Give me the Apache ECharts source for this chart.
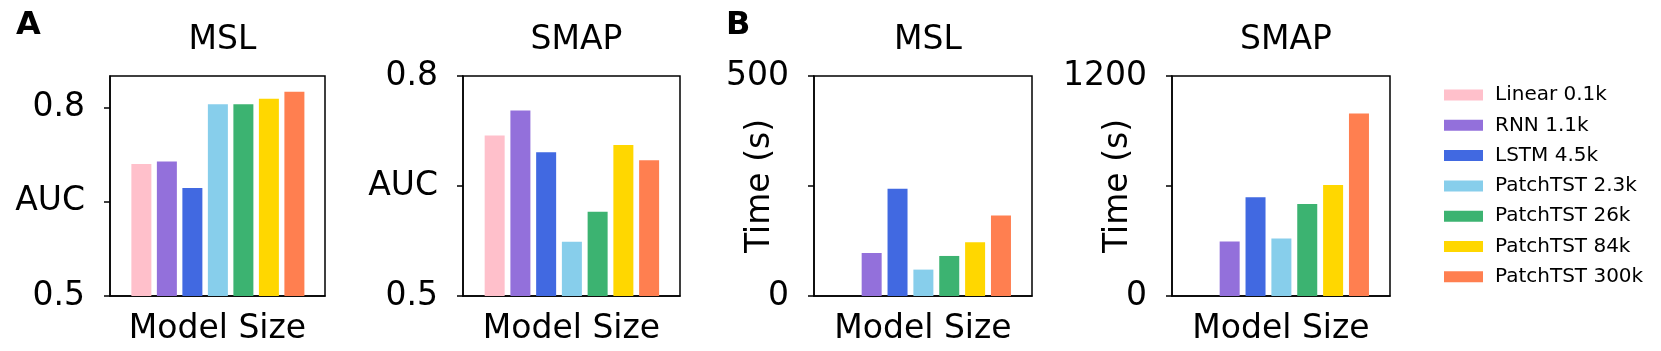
<!DOCTYPE html>
<html>
<head>
    <meta charset="utf-8">
    <title>AUC and time by model size</title>
    <script src="https://cdn.jsdelivr.net/npm/echarts@6/dist/echarts.min.js"></script>
    <style>
        body { margin: 0; background: #fff; }
        #main { width: 1661px; height: 351px; }
    </style>
</head>
<body>
<div id="main"></div>
<script type="text/javascript">
    // models shown in every panel, left to right
    var models = ['Linear 0.1k', 'RNN 1.1k', 'LSTM 4.5k', 'PatchTST 2.3k', 'PatchTST 26k', 'PatchTST 84k', 'PatchTST 300k'];
    var colors = ['#FFC0CB', '#9370DB', '#4169E1', '#87CEEB', '#3CB371', '#FFD700', '#FF7F50'];

    // values
    var mslAuc = [0.710, 0.714, 0.672, 0.805, 0.805, 0.814, 0.825];
    var smapAuc = [0.719, 0.753, 0.696, 0.574, 0.615, 0.706, 0.685];
    var mslTime = [0, 98, 244, 60, 91, 122, 183];
    var smapTime = [0, 297, 538, 313, 502, 606, 996];

    var panelTitles = ['MSL', 'SMAP', 'MSL', 'SMAP'];
    var aucTicks = [0.5, 0.65, 0.8];
    var mslTimeTicks = [0, 250, 500];
    var smapTimeTicks = [0, 600, 1200];

    var font = 'DejaVu Sans';
    var panels = [
        {left: 110, width: 215, data: mslAuc, min: 0.5, max: 0.85, ticks: aucTicks, auc: true},
        {left: 463, width: 217, data: smapAuc, min: 0.5, max: 0.8, ticks: aucTicks, auc: true},
        {left: 814, width: 218, data: mslTime, min: 0, max: 500, ticks: mslTimeTicks, auc: false},
        {left: 1172, width: 218, data: smapTime, min: 0, max: 1200, ticks: smapTimeTicks, auc: false}
    ];

    var grids = [], xAxes = [], yAxes = [], titles = [], series = [];
    var axisLine = {show: true, onZero: false, lineStyle: {color: '#000', width: 1.5}};

    panels.forEach(function (p, i) {
        grids.push({
            left: p.left, top: 76, width: p.width, height: 221,
            show: true, borderColor: '#000', borderWidth: 1.5, containLabel: false
        });
        xAxes.push({
            type: 'value', gridIndex: i, min: -1.23, max: 7.2,
            axisLine: axisLine, axisTick: {show: false}, axisLabel: {show: false},
            splitLine: {show: false},
            name: 'Model Size', nameLocation: 'middle', nameGap: 17, nameMoveOverlap: false,
            nameTextStyle: {fontFamily: font, fontSize: 33, color: '#000', verticalAlign: 'top'}
        });
        var ticks = p.ticks;
        yAxes.push({
            type: 'value', gridIndex: i, min: p.min, max: p.max,
            axisLine: axisLine, splitLine: {show: false},
            axisTick: {show: true, length: 6, customValues: ticks, lineStyle: {color: '#000', width: 1.5}},
            axisLabel: {
                customValues: ticks, margin: 25,
                fontFamily: font, fontSize: 33, color: '#000',
                formatter: function (v) {
                    if (Math.abs(v - ticks[1]) < 1e-6) return p.auc ? 'AUC' : '';
                    return p.auc ? v.toFixed(1) : String(v);
                }
            },
            name: p.auc ? '' : 'Time (s)', nameLocation: 'middle', nameRotate: 90, nameGap: 37,
            nameMoveOverlap: false,
            nameTextStyle: {fontFamily: font, fontSize: 33, color: '#000'}
        });
        titles.push({
            text: panelTitles[i], left: p.left + p.width / 2, top: 19, textAlign: 'center',
            textStyle: {fontFamily: font, fontSize: 33, fontWeight: 'normal', color: '#000'}
        });
        models.forEach(function (m, j) {
            series.push({
                type: 'bar', name: m, xAxisIndex: i, yAxisIndex: i,
                data: [[j, p.data[j]]],
                barWidth: 20, barGap: '-100%',
                itemStyle: {color: colors[j]},
                emphasis: {disabled: true}
            });
        });
    });

    // panel letters
    titles.push({text: 'A', left: 11, top: 5, textStyle: {fontFamily: font, fontSize: 32, fontWeight: 'bold', color: '#000'}});
    titles.push({text: 'B', left: 721, top: 5, textStyle: {fontFamily: font, fontSize: 32, fontWeight: 'bold', color: '#000'}});

    var myChart = echarts.init(document.getElementById('main'));
    myChart.setOption({
        animation: false,
        title: titles,
        grid: grids,
        xAxis: xAxes,
        yAxis: yAxes,
        legend: {
            data: models, orient: 'vertical', left: 1439, top: 80,
            icon: 'rect', itemWidth: 39, itemHeight: 11, itemGap: 10.3,
            textStyle: {fontFamily: font, fontSize: 20, color: '#000', lineHeight: 20, padding: [0, 0, 0, 7]}
        },
        series: series
    });
</script>
</body>
</html>
